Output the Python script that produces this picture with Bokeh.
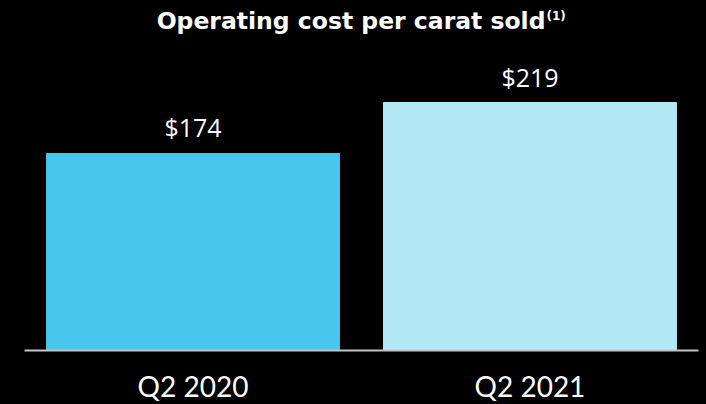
from bokeh.plotting import figure
from bokeh.models import Range1d, Label, ColumnDataSource, FixedTicker
from bokeh.core.properties import value
from bokeh.embed import file_html
from bokeh.resources import INLINE

categories = ["Q2 2020", "Q2 2021"]
costs = [174, 219]
value_labels = ["$174", "$219"]
bar_colors = ["#49C7EE", "#B3E9F7"]
title_text = "Operating cost per carat sold"
title_note = "(1)"

W = 706
FRAME_H = 350
BOTTOM = 54
Y_END = 309.1
px = Y_END / FRAME_H  # data units per pixel
X0, X1 = -0.5712, 1.5238

xs = list(range(len(categories)))
src = ColumnDataSource(dict(x=xs, top=costs, color=bar_colors, lab=value_labels))

p = figure(frame_width=W, frame_height=FRAME_H, output_backend="svg", toolbar_location=None,
           x_range=Range1d(X0, X1), y_range=Range1d(0, Y_END),
           min_border_left=0, min_border_right=0, min_border_top=0,
           min_border_bottom=BOTTOM)
p.background_fill_color = "#000000"
p.border_fill_color = "#000000"
p.outline_line_color = None
p.grid.visible = False
p.yaxis.visible = False

p.vbar(x="x", top="top", width=0.869, color="color", source=src)
p.text(x="x", y="top", text="lab", source=src, y_offset=-26,
       text_align="center", text_baseline="alphabetic",
       text_color="#FFFFFF", text_font=value("Open Sans"), text_font_size="25px")

ax = p.xaxis[0]
ax.ticker = FixedTicker(ticks=xs)
ax.major_label_overrides = {i: c for i, c in zip(xs, categories)}
ax.bounds = (-0.5, 1.5)
ax.axis_line_color = "#C4C4C4"
ax.axis_line_width = 2
ax.major_tick_line_color = None
ax.minor_tick_line_color = None
ax.major_label_standoff = 12
ax.major_label_text_color = "#FFFFFF"
ax.major_label_text_font = "Lato"
ax.major_label_text_font_size = "28px"

x_per_px = (X1 - X0) / W
def xd(fx):
    return X0 + fx * x_per_px
def yd(fy):
    return (FRAME_H - fy) * px

p.add_layout(Label(x=xd(545), y=yd(20), text=title_text, text_color="#FFFFFF",
                   text_font="DejaVu Sans", text_font_style="bold", text_align="right",
                   text_font_size="23.5px", text_baseline="alphabetic"))
p.add_layout(Label(x=xd(546), y=yd(15), text=title_note, text_color="#FFFFFF",
                   text_font="DejaVu Sans", text_font_style="bold",
                   text_font_size="12px", text_baseline="alphabetic"))

open("out.html", "w").write(file_html(p, INLINE).replace("<body>", "<body style=\"background:#000000;\">"))
